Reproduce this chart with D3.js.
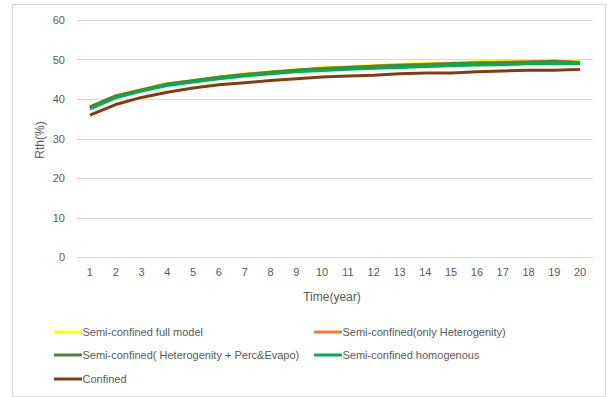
<!DOCTYPE html>
<html>
<head>
<meta charset="utf-8">
<script src="https://d3js.org/d3.v7.min.js"></script>
<style>
  body { margin: 0; background: #fff; }
  text { font-family: "Liberation Sans", Arial, sans-serif; fill: #595959; }
</style>
</head>
<body>
<svg width="609" height="397"></svg>
<script>
// data
var years = d3.range(1, 21);
var yTicks = [0, 10, 20, 30, 40, 50, 60];

var fullModel     = [38.0, 40.8, 42.4, 43.9, 44.7, 45.6, 46.4, 46.9, 47.5, 47.9, 48.2, 48.5, 48.8, 49.0, 49.2, 49.4, 49.5, 49.5, 49.8, 49.6];
var onlyHetero    = [37.9, 40.7, 42.3, 43.8, 44.6, 45.5, 46.2, 46.8, 47.3, 47.7, 48.0, 48.3, 48.6, 48.8, 49.0, 49.2, 49.3, 49.4, 49.6, 49.3];
var heteroPerc    = [38.0, 40.8, 42.3, 43.8, 44.6, 45.5, 46.2, 46.8, 47.3, 47.7, 48.0, 48.3, 48.5, 48.7, 48.9, 49.1, 49.2, 49.3, 49.5, 49.2];
var homogenous    = [37.5, 40.3, 42.0, 43.4, 44.3, 45.1, 45.8, 46.4, 46.9, 47.2, 47.5, 47.8, 48.0, 48.2, 48.4, 48.6, 48.7, 48.9, 48.9, 49.0];
var confined      = [35.9, 38.6, 40.4, 41.7, 42.8, 43.6, 44.1, 44.7, 45.1, 45.6, 45.8, 46.0, 46.4, 46.6, 46.6, 46.9, 47.1, 47.3, 47.3, 47.5];

var series = [
    { name: "Semi-confined full model", values: fullModel, color: "#FFFF00" },
    { name: "Semi-confined(only Heterogenity)", values: onlyHetero, color: "#ED7D31" },
    { name: "Semi-confined( Heterogenity + Perc&Evapo)", values: heteroPerc, color: "#548235" },
    { name: "Semi-confined homogenous", values: homogenous, color: "#00B050" },
    { name: "Confined", values: confined, color: "#843C0C" }
];

var svg = d3.select("svg");

// chart border
svg.append("rect")
    .attr("x", 12.5).attr("y", 4.5)
    .attr("width", 593).attr("height", 392)
    .attr("fill", "none").attr("stroke", "#d9d9d9");

var margin = { left: 77, right: 16, top: 20, bottom: 140 };
var plotW = 593 - 77, plotH = 257 - 20;

var g = svg.append("g").attr("transform", "translate(" + margin.left + "," + margin.top + ")");

var x = d3.scaleBand().domain(years).range([0, plotW]);
var y = d3.scaleLinear().domain([0, 60]).range([plotH, 0]);

// gridlines
g.append("g")
    .selectAll("line")
    .data(yTicks)
    .enter().append("line")
    .attr("x1", 0).attr("x2", plotW)
    .attr("y1", function (d) { return Math.round(y(d)) + 0.5; })
    .attr("y2", function (d) { return Math.round(y(d)) + 0.5; })
    .attr("stroke", "#d9d9d9").attr("stroke-width", 1);

// y axis labels
var yAxis = g.append("g").call(d3.axisLeft(y).tickValues(yTicks).tickSize(0).tickPadding(12));
yAxis.select(".domain").remove();
yAxis.selectAll("text").style("font-size", "11px").attr("fill", "#595959");

// x axis labels
var xAxis = g.append("g")
    .attr("transform", "translate(0," + plotH + ")")
    .call(d3.axisBottom(x).tickSize(0).tickPadding(11));
xAxis.select(".domain").remove();
xAxis.selectAll("text").style("font-size", "11px").attr("fill", "#595959");

// axis titles
svg.append("text")
    .attr("x", 332).attr("y", 301)
    .attr("text-anchor", "middle")
    .style("font-size", "12px")
    .text("Time(year)");

svg.append("text")
    .attr("transform", "translate(44,140) rotate(-90)")
    .attr("text-anchor", "middle")
    .style("font-size", "12px")
    .text("Rth(%)");

// lines
var line = d3.line()
    .x(function (d, i) { return x(years[i]) + x.bandwidth() / 2; })
    .y(function (d) { return y(d); });

g.selectAll(".series")
    .data(series)
    .enter().append("path")
    .attr("class", "series")
    .attr("d", function (d) { return line(d.values); })
    .attr("fill", "none")
    .attr("stroke", function (d) { return d.color; })
    .attr("stroke-width", 3)
    .attr("stroke-linejoin", "round");

// legend
var legendPos = [[54, 332], [314, 332], [54, 355], [314, 355], [54, 379]];
var legend = svg.selectAll(".legend")
    .data(series)
    .enter().append("g")
    .attr("class", "legend")
    .attr("transform", function (d, i) { return "translate(" + legendPos[i][0] + "," + legendPos[i][1] + ")"; });

legend.append("line")
    .attr("x1", 0).attr("x2", 28)
    .attr("y1", 0).attr("y2", 0)
    .attr("stroke", function (d) { return d.color; })
    .attr("stroke-width", 3);

legend.append("text")
    .attr("x", 28.5).attr("y", 0)
    .attr("dy", "0.35em")
    .style("font-size", "11px")
    .text(function (d) { return d.name; });
</script>
</body>
</html>
